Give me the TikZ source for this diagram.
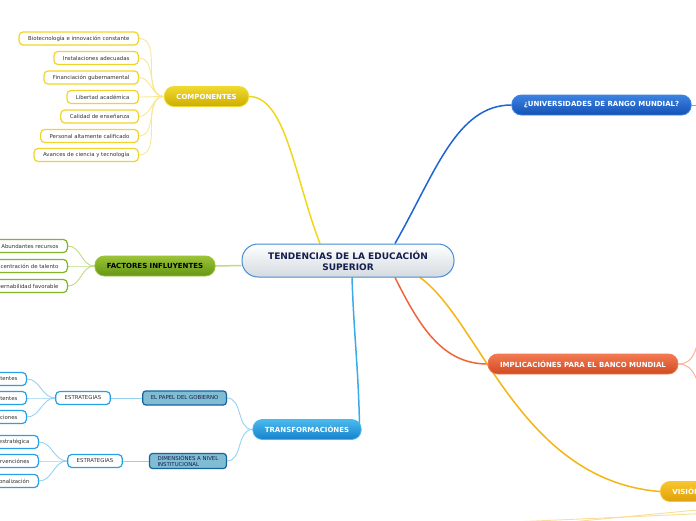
\documentclass[tikz,border=0pt]{standalone}
\usepackage{fontspec}
\setmainfont{DejaVu Sans}
\usetikzlibrary{backgrounds}

\definecolor{rootEdge}{RGB}{70,140,210}
\definecolor{rootBot}{RGB}{212,218,224}
\definecolor{rootText}{RGB}{20,30,80}
\definecolor{yelTop}{RGB}{240,218,50}
\definecolor{yelBot}{RGB}{205,172,0}
\definecolor{yelEdge}{RGB}{240,212,40}
\definecolor{yelLine}{RGB}{240,215,30}
\definecolor{yelSoft}{RGB}{248,232,150}
\definecolor{uniTop}{RGB}{60,130,225}
\definecolor{uniBot}{RGB}{20,82,182}
\definecolor{uniLine}{RGB}{30,100,210}
\definecolor{grnTop}{RGB}{155,195,55}
\definecolor{grnBot}{RGB}{100,150,20}
\definecolor{grnEdge}{RGB}{130,180,40}
\definecolor{grnSoft}{RGB}{190,220,130}
\definecolor{cyaTop}{RGB}{75,185,238}
\definecolor{cyaBot}{RGB}{20,130,205}
\definecolor{cyaEdge}{RGB}{40,160,230}
\definecolor{cyaLine}{RGB}{60,170,230}
\definecolor{cyaSoft}{RGB}{150,210,240}
\definecolor{steelFill}{RGB}{128,188,210}
\definecolor{steelEdge}{RGB}{20,100,160}
\definecolor{redTop}{RGB}{242,122,82}
\definecolor{redBot}{RGB}{208,74,34}
\definecolor{redLine}{RGB}{240,100,60}
\definecolor{redSoft}{RGB}{248,175,150}
\definecolor{golTop}{RGB}{250,198,45}
\definecolor{golBot}{RGB}{225,160,10}
\definecolor{golLine}{RGB}{245,182,20}
\definecolor{golSoft}{RGB}{250,222,150}
\definecolor{leafText}{RGB}{50,50,50}

\tikzset{
  rootbox/.style={draw=rootEdge, line width=1pt, rounded corners=16pt, top color=white,
    bottom color=rootBot, minimum width=212pt, minimum height=33pt, align=center,
    font=\fontsize{9}{11}\selectfont\bfseries, text=rootText},
  mainbox/.style={rounded corners=9.5pt, minimum height=20pt, inner xsep=12pt, inner ysep=0pt,
    line width=0.8pt, font=\fontsize{7}{8}\selectfont\bfseries, text=white},
  leafbox/.style={draw=#1, line width=1.2pt, fill=white, rounded corners=4pt, minimum height=13pt,
    inner xsep=9pt, inner ysep=0pt, font=\fontsize{5.4}{6}\selectfont, text=leafText, anchor=east},
  midbox/.style={draw=steelEdge, line width=1.2pt, fill=steelFill, rounded corners=3pt,
    minimum height=14pt, inner xsep=8pt, inner ysep=2pt, align=left, anchor=east,
    font=\fontsize{5.4}{6}\selectfont, text=rootText},
  mainline/.style={line width=1.5pt},
  softline/.style={line width=0.9pt}
}

\begin{document}
\begin{tikzpicture}[x=1pt, y=-1pt]
  \useasboundingbox (0,0) rectangle (696,520);
  \clip (0,0) rectangle (696,520);

  % Central node
  \node[rootbox] (root) at (348,260.5) {TENDENCIAS DE LA EDUCACIÓN\\SUPERIOR};

  % Yellow branch
  \node[mainbox, top color=yelTop, bottom color=yelBot, draw=yelTop] (comp) at (206.5,96.5) {COMPONENTES};
  \node[leafbox=yelEdge] (comp1) at (139,38.5) {Biotecnología e innovación constante};
  \node[leafbox=yelEdge] (comp2) at (139,58) {Instalaciones adecuadas};
  \node[leafbox=yelEdge] (comp3) at (139,77.5) {Financiación gubernamental};
  \node[leafbox=yelEdge] (comp4) at (139,97) {Libertad académica};
  \node[leafbox=yelEdge] (comp5) at (139,116.5) {Calidad de enseñanza};
  \node[leafbox=yelEdge] (comp6) at (139,136) {Personal altamente calificado};
  \node[leafbox=yelEdge] (comp7) at (139,155) {Avances de ciencia y tecnología};

  % Green branch
  \node[mainbox, top color=grnTop, bottom color=grnBot, draw=grnTop, text=black] (fact) at (155,266) {FACTORES INFLUYENTES};
  \node[leafbox=grnEdge] (fact1) at (68,246) {Abundantes recursos};
  \node[leafbox=grnEdge] (fact2) at (68,266) {Concentración de talento};
  \node[leafbox=grnEdge] (fact3) at (68,286) {Gobernabilidad favorable};

  % Light blue branch
  \node[mainbox, top color=cyaTop, bottom color=cyaBot, draw=cyaTop] (trans) at (307,429.5) {TRANSFORMACIÓNES};
  \node[midbox] (papel) at (227,398) {EL PAPEL DEL GOBIERNO};
  \node[midbox] (dimen) at (227,461) {DIMENSIÓNES A NIVEL\\INSTITUCIONAL};
  \node[leafbox=cyaEdge, anchor=center] (estr1) at (83,398) {ESTRATEGIAS};
  \node[leafbox=cyaEdge, anchor=center] (estr2) at (95,461) {ESTRATEGIAS};
  \node[leafbox=cyaEdge] (papel1) at (27,379) {Mejorar instituciones existentes};
  \node[leafbox=cyaEdge] (papel2) at (27,398) {Fusionar instituciones existentes};
  \node[leafbox=cyaEdge] (papel3) at (27,417) {Crear nuevas instituciones};
  \node[leafbox=cyaEdge] (dimen1) at (39,442) {Liderazgo y visión estratégica};
  \node[leafbox=cyaEdge] (dimen2) at (39,461) {Secuencia de intervenciónes};
  \node[leafbox=cyaEdge] (dimen3) at (39,481) {Internacionalización};

  % Right side
  \node[mainbox, top color=uniTop, bottom color=uniBot, draw=uniTop] (univ) at (601.5,105) {¿UNIVERSIDADES DE RANGO MUNDIAL?};
  \node[mainbox, top color=redTop, bottom color=redBot, draw=redTop] (impl) at (583,364) {IMPLICACIÓNES PARA EL BANCO MUNDIAL};
  \node[mainbox, top color=golTop, bottom color=golBot, draw=golTop, anchor=west, text width=90pt, align=left] (vision) at (660,491.5) {VISIÓN};

  \coordinate (univOut) at (710,105);
  \coordinate (implUp) at (705,318);
  \coordinate (implDown) at (705,402);
  \coordinate (visOutA) at (760,504);
  \coordinate (visOutB) at (760,511);
  \coordinate (visEndA) at (560,523);
  \coordinate (visEndB) at (400,527);

  \begin{pgfonlayer}{background}
    \fill[white] (0,0) rectangle (696,520);
    % main connectors
    \draw[mainline, yelLine] (comp.east) .. controls +(37,0) and +(-25,-64) .. ([xshift=-28pt]root.north);
    \draw[mainline, uniLine] ([xshift=47pt]root.north) .. controls +(40,-70) and +(-55,0) .. (univ.west);
    \draw[mainline, grnSoft] (fact.east) -- ([yshift=-5pt]root.west);
    \draw[mainline, cyaLine] ([xshift=4pt]root.south) .. controls +(2,60) and +(-1,-60) .. ([xshift=-2pt]trans.east);
    \draw[mainline, redLine] ([xshift=47pt]root.south) .. controls +(25,50) and +(-45,0) .. (impl.west);
    \draw[mainline, golLine] ([xshift=72pt]root.south) .. controls +(60,43) and +(-140,-11) .. (vision.west);

    % yellow leaves
    \draw[softline, yelSoft] (comp.west) to[out=180,in=0] (comp1.east);
    \draw[softline, yelSoft] (comp.west) to[out=180,in=0] (comp2.east);
    \draw[softline, yelSoft] (comp.west) to[out=180,in=0] (comp3.east);
    \draw[softline, yelSoft] (comp.west) to[out=180,in=0] (comp4.east);
    \draw[softline, yelSoft] (comp.west) to[out=180,in=0] (comp5.east);
    \draw[softline, yelSoft] (comp.west) to[out=180,in=0] (comp6.east);
    \draw[softline, yelSoft] (comp.west) to[out=180,in=0] (comp7.east);

    % green leaves
    \draw[softline, grnSoft] (fact.west) to[out=180,in=0] (fact1.east);
    \draw[softline, grnSoft] (fact.west) to[out=180,in=0] (fact2.east);
    \draw[softline, grnSoft] (fact.west) to[out=180,in=0] (fact3.east);

    % light blue leaves
    \draw[softline, cyaSoft] (trans.west) to[out=180,in=0] (papel.east);
    \draw[softline, cyaSoft] (trans.west) to[out=180,in=0] (dimen.east);
    \draw[softline, cyaSoft] (papel.west) -- (estr1.east);
    \draw[softline, cyaSoft] (dimen.west) -- (estr2.east);
    \draw[softline, cyaSoft] (estr1.west) to[out=180,in=0] (papel1.east);
    \draw[softline, cyaSoft] (estr1.west) to[out=180,in=0] (papel2.east);
    \draw[softline, cyaSoft] (estr1.west) to[out=180,in=0] (papel3.east);
    \draw[softline, cyaSoft] (estr2.west) to[out=180,in=0] (dimen1.east);
    \draw[softline, cyaSoft] (estr2.west) to[out=180,in=0] (dimen2.east);
    \draw[softline, cyaSoft] (estr2.west) to[out=180,in=0] (dimen3.east);

    % right side stubs
    \draw[softline, uniLine!60] (univ.east) -- (univOut);
    \draw[softline, redSoft] (impl.east) to[out=0,in=-115] (implUp);
    \draw[softline, redSoft] (impl.east) to[out=0,in=115] (implDown);
    \draw[softline, golSoft] (visOutA) -- (visEndA);
    \draw[softline, golSoft] (visOutB) -- (visEndB);
  \end{pgfonlayer}
\end{tikzpicture}
\end{document}
